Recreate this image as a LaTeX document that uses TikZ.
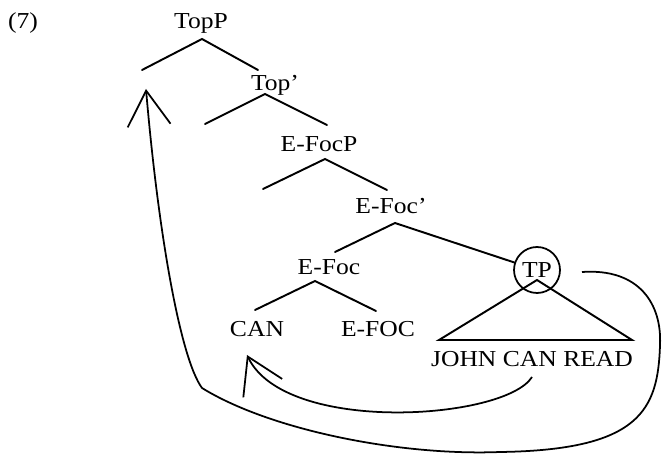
\documentclass[tikz,border=0pt]{standalone}
\usepackage{fontspec}
\setmainfont{Liberation Serif}[FakeStretch=1.12]
\usetikzlibrary{arrows.meta}

\begin{document}
\begin{tikzpicture}[x=0.02cm, y=-0.02cm,
  lab/.style={inner sep=1pt, anchor=base, font=\fontsize{13}{15}\selectfont},
  branch/.style={line width=1.1pt, line cap=round},
  move/.style={line width=1pt, -{Straight Barb[length=0.7cm, width=0.86cm]}}]
  \useasboundingbox (0,0) rectangle (662,455);
  % labels
  \node[lab] (ex) at (23,29) {(7)};
  \node[lab] (topp) at (201,29) {TopP};
  \node[lab] (topbar) at (275,91) {Top'};
  \node[lab] (efocp) at (319,152) {E-FocP};
  \node[lab] (efocbar) at (391,214) {E-Foc'};
  \node[lab] (efoc) at (329,275) {E-Foc};
  \node[lab] (can) at (257,337) {CAN};
  \node[lab] (efochd) at (378,337) {E-FOC};
  \node[lab] (jcr) at (532,367) {JOHN CAN READ};
  \node[lab, anchor=center, draw, circle, minimum size=0.92cm, inner sep=0pt, line width=1pt] (tp) at (537,270) {TP};
  % empty positions
  \coordinate (topspec) at (142,70);
  \coordinate (topbarspec) at (205,124);
  \coordinate (efocpspec) at (263,189);
  \coordinate (toplanding) at (146,89);
  \coordinate (canlanding) at ([shift={(-10,18)}]can.base);
  % branches
  \draw[branch] (topspec) -- ([shift={(1,10)}]topp.base) -- ([shift={(-17,-21)}]topbar.base);
  \draw[branch] (topbarspec) -- ([shift={(-10,3)}]topbar.base) -- ([shift={(8,-27)}]efocp.base);
  \draw[branch] (efocpspec) -- ([shift={(6,7)}]efocp.base) -- ([shift={(-4,-24)}]efocbar.base);
  \draw[branch] ([shift={(6,-23)}]efoc.base) -- ([shift={(4,9)}]efocbar.base) -- (tp);
  \draw[branch] ([shift={(-2,-27)}]can.base) -- ([shift={(-14,6)}]efoc.base) -- ([shift={(-2,-26)}]efochd.base);
  \draw[branch] ([shift={(0,10)}]tp.center) -- ([shift={(-93,-27)}]jcr.base) -- ([shift={(100,-27)}]jcr.base) -- cycle;
  % movement
  \draw[move] ([shift={(0,10)}]jcr.base) .. controls (505,420) and (285,435) .. (canlanding);
  \draw[move] ([shift={(45,2)}]tp.center) .. controls (640,268) and (662,305) .. (660,345)
    .. controls (658,410) and (640,450) .. (500,452)
    .. controls (400,456) and (270,430) .. (202,388)
    .. controls (180,358) and (158,230) .. (toplanding);
\end{tikzpicture}
\end{document}
